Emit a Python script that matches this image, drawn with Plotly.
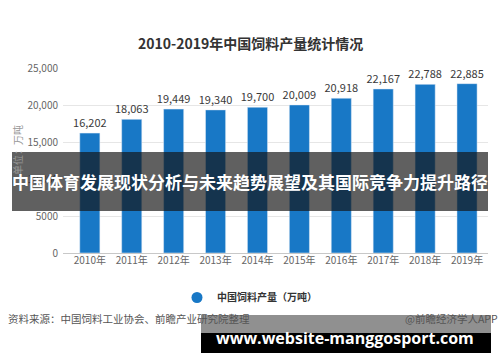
import plotly.graph_objects as go

years = ["2010年", "2011年", "2012年", "2013年", "2014年", "2015年", "2016年", "2017年", "2018年", "2019年"]
output = [16202, 18063, 19449, 19340, 19700, 20009, 20918, 22167, 22788, 22885]
ytick_vals = [0, 5000, 10000, 15000, 20000, 25000]
ytick_text = ["0", "5000", "10,000", "15,000", "20,000", "25,000"]

W, H = 500, 362
L, R, T, B = 63, 12, 68, 109
PW, PH = W - L - R, H - T - B

def px(x):
    return (x - L) / PW

def py(y):
    return (H - B - y) / PH

FONT = "Noto Sans CJK SC"
BAR = "#1878c6"

fig = go.Figure()
fig.add_trace(go.Bar(
    x=years, y=output, marker_color=BAR, width=0.48,
    text=[f"{v:,}" for v in output], textposition="outside", constraintext="none",
    textfont=dict(family=FONT, size=11, color="#3a3a3a"),
    cliponaxis=False, showlegend=False,
))
fig.add_trace(go.Scatter(
    x=[None], y=[None], mode="markers", name="<b>中国饲料产量（万吨）</b>",
    marker=dict(symbol="circle", size=11, color=BAR),
))

shapes = [
    dict(type="rect", xref="paper", yref="paper", x0=px(12), x1=px(488), y0=py(211), y1=py(152),
         fillcolor="rgba(20,20,20,0.68)", line_width=0, layer="above"),
    dict(type="rect", xref="paper", yref="paper", x0=px(201), x1=px(491), y0=py(333), y1=py(315),
         fillcolor="rgba(70,70,70,0.6)", line_width=0, layer="above"),
    dict(type="rect", xref="paper", yref="paper", x0=px(201), x1=px(491), y0=py(353), y1=py(333),
         fillcolor="#000000", line_width=0, layer="above"),
]

def ann(text, x, y, size, color, family=FONT, xanchor="center", angle=0):
    return dict(text=text, x=px(x), y=py(y), xref="paper", yref="paper", xanchor=xanchor,
                yanchor="middle", textangle=angle, showarrow=False,
                font=dict(family=family, size=size, color=color))

annotations = [
    ann("<b>2010-2019年中国饲料产量统计情况</b>", 250, 43, 14, "#333333"),
    ann("单位：万吨", 17, 150, 10, "#999999", angle=-90),
    ann("资料来源：中国饲料工业协会、前瞻产业研究院整理", 6, 318, 10.5, "#555555", xanchor="left"),
    ann("@前瞻经济学人APP", 500, 318, 10.5, "#555555", xanchor="right"),
    ann("<b>中国体育发展现状分析与未来趋势展望及其国际竞争力提升路径</b>", 250, 181, 17, "#ffffff"),
    ann("<b>www.website-manggosport.com</b>", 345, 338, 16, "#ffffff", family="Open Sans"),
]

fig.update_layout(
    width=W, height=H, margin=dict(l=L, r=R, t=T, b=B),
    paper_bgcolor="white", plot_bgcolor="white",
    font=dict(family=FONT),
    bargap=0.52,
    xaxis=dict(range=[-0.64, 9.5], showgrid=False, ticks="", showline=False, automargin=False,
               tickfont=dict(family=FONT, size=10, color="#666666")),
    yaxis=dict(range=[0, 25000], tickvals=ytick_vals, ticktext=ytick_text, showgrid=True,
               gridcolor="#e6e6e6", zeroline=True, zerolinecolor="#c8c8c8", zerolinewidth=1,
               automargin=False, ticklabelstandoff=4,
               tickfont=dict(family=FONT, size=10, color="#666666"), ticks="", showline=False),
    legend=dict(orientation="h", x=px(177), y=py(283), xanchor="left", yanchor="top", itemwidth=30,
                font=dict(family=FONT, size=10, color="#333333"), bgcolor="rgba(0,0,0,0)"),
    shapes=shapes, annotations=annotations,
)

fig.write_html("out.html", config={"displayModeBar": False},
               post_script="document.body.style.margin='0';document.body.style.overflow='hidden';")
